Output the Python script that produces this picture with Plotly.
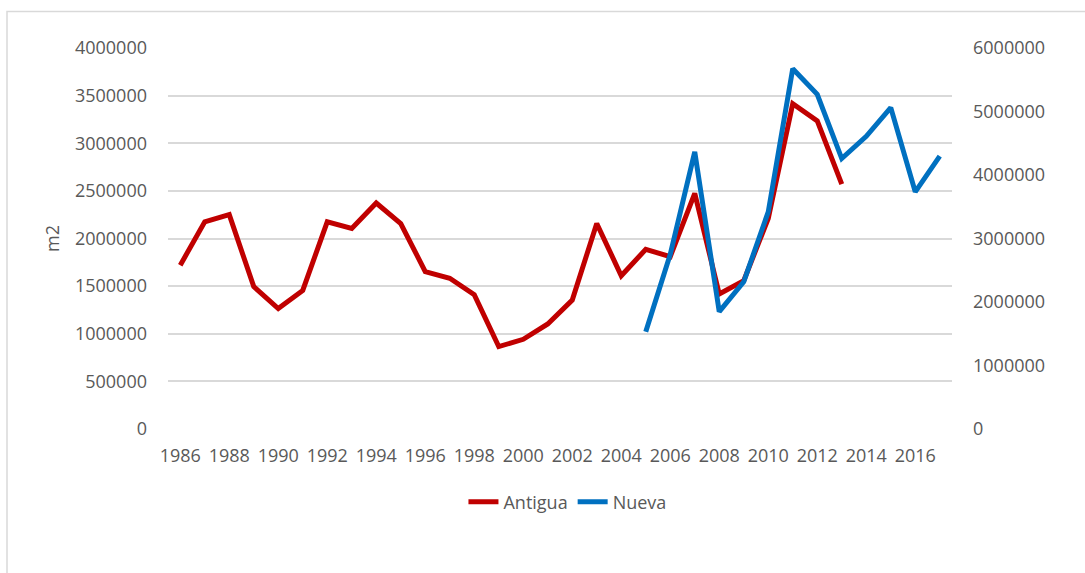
import plotly.graph_objects as go

years = list(range(1986, 2018))
antigua = [1720000, 2175000, 2250000, 1495000, 1265000, 1455000, 2175000, 2105000,
           2373000, 2157000, 1653000, 1583000, 1410000, 865000, 942000, 1103000,
           1354000, 2158000, 1609000, 1886000, 1810000, 2473000, 1417000, 1557000,
           2210000, 3416000, 3234000, 2570000, None, None, None, None]
nueva_years = list(range(2005, 2018))
nueva = [1533000, 2750000, 4363000, 1848000, 2319000, 3420000, 5674000, 5270000,
         4259000, 4610000, 5061000, 3734000, 4296000]
x_ticks = list(range(1986, 2017, 2))
left_ticks = list(range(0, 4000001, 500000))
right_ticks = list(range(0, 6000001, 1000000))

FONT = "Open Sans"
TXT = "#595959"
GRID = "#D9D9D9"

fig = go.Figure()
fig.add_trace(go.Scatter(x=years, y=antigua, name="Antigua", mode="lines",
                         line=dict(color="#C00000", width=5), connectgaps=False))
fig.add_trace(go.Scatter(x=nueva_years, y=nueva, name="Nueva", mode="lines",
                         line=dict(color="#0070C0", width=5), yaxis="y2"))

fig.update_layout(
    width=1085, height=573,
    margin=dict(l=168, r=133, t=48, b=144, autoexpand=False),
    paper_bgcolor="white", plot_bgcolor="white",
    font=dict(family=FONT, size=18, color=TXT),
    showlegend=True,
    legend=dict(orientation="h", xref="container", yref="container",
                x=0.523, y=0.124, xanchor="center", yanchor="middle",
                font=dict(family=FONT, size=18, color=TXT),
                itemwidth=30, tracegroupgap=0),
    xaxis=dict(range=[1985.5, 2017.5], tickmode="array", tickvals=x_ticks,
               ticktext=[str(v) for v in x_ticks], showgrid=False,
               zeroline=False, showline=False, ticks="", ticklabelstandoff=14,
               tickfont=dict(family=FONT, size=18, color=TXT)),
    yaxis=dict(range=[0, 4000000], tickmode="array", tickvals=left_ticks,
               ticktext=[str(v) for v in left_ticks], showgrid=True,
               gridcolor=GRID, gridwidth=1.5, zeroline=False, showline=False,
               ticks="", ticklabelstandoff=20,
               title=dict(text="m2", standoff=10,
                          font=dict(family=FONT, size=18, color=TXT)),
               tickfont=dict(family=FONT, size=18, color=TXT)),
    yaxis2=dict(range=[0, 6000000], tickmode="array", tickvals=right_ticks,
                ticktext=[str(v) for v in right_ticks], overlaying="y",
                side="right", showgrid=False, zeroline=False, showline=False,
                ticks="", ticklabelstandoff=20,
                tickfont=dict(family=FONT, size=18, color=TXT)),
    shapes=[dict(type="rect", xref="paper", yref="paper",
                 x0=(7 - 168) / 784, x1=(1095 - 168) / 784,
                 y0=(429.2 - 590) / 381.6, y1=(429.2 - 11) / 381.6,
                 line=dict(color=GRID, width=1.5), fillcolor="rgba(0,0,0,0)",
                 layer="below")],
)

fig.write_html("out.html")
